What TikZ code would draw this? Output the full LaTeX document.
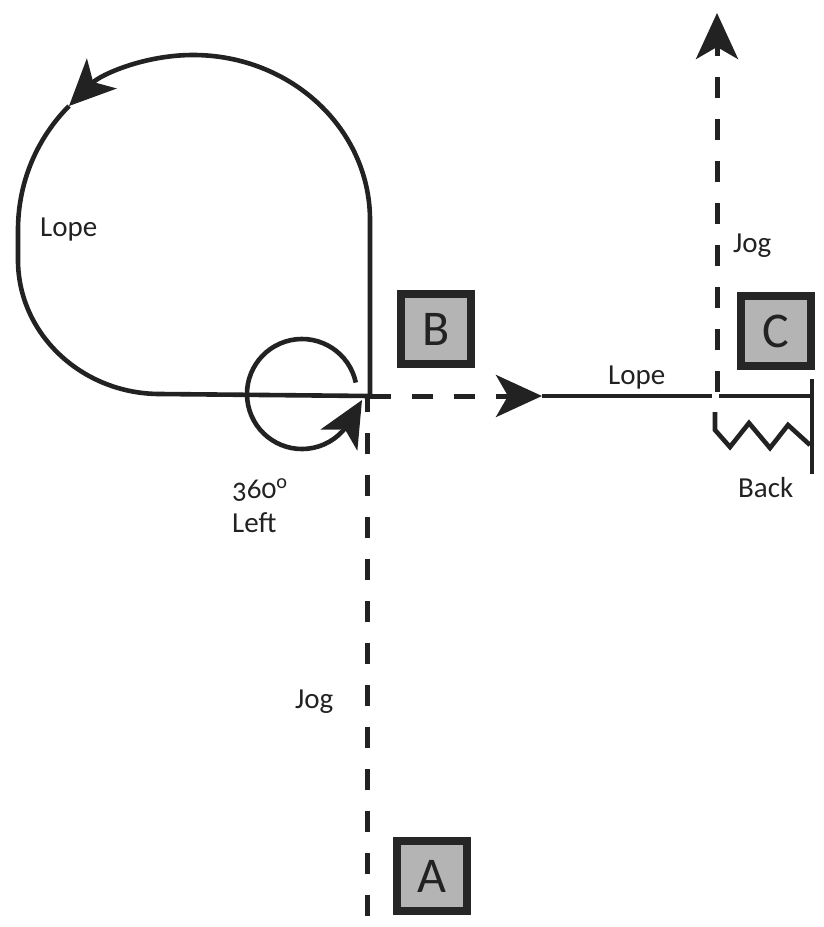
\documentclass[tikz,border=0pt]{standalone}
\usepackage{fontspec}
\setmainfont{Carlito}[Numbers=OldStyle]
\usetikzlibrary{arrows.meta}
\definecolor{ink}{HTML}{222222}
\definecolor{boxfill}{HTML}{B4B4B4}
\definecolor{boxedge}{HTML}{262626}
\tikzset{
  solidline/.style={draw=ink, line width=4.6pt},
  dashline/.style={draw=ink, line width=5pt, dash pattern=on 21pt off 21pt},
  tip/.style={-{Stealth[length=46pt,width=42pt,inset=12pt]}},
  marker/.style={draw=boxedge, fill=boxfill, line width=8pt, minimum size=70pt, inner sep=0pt,
    font=\fontsize{50}{50}\selectfont, text=ink},
  lbl/.style={font=\fontsize{29}{30}\selectfont, text=ink, inner sep=0pt, anchor=base west},
}
\begin{document}
\begin{tikzpicture}[x=1pt,y=-1pt]
\useasboundingbox (0,0) rectangle (824,927);
% markers
\node[marker] (B) at (436,329) {B};
\node[marker] (C) at (776,331) {C};
\node[marker] (A) at (432,876) {A};
% key points
\coordinate (J) at (370,396);
\coordinate (Astart) at (367,916);
\coordinate (Jv) at (367,398);
\coordinate (Mtip) at (542,396);
\coordinate (Cross1) at (712,396);
\coordinate (Cross2) at (719,396);
\coordinate (WallPt) at (812,396);
\coordinate (WallTop) at (812,379);
\coordinate (WallBot) at (812,474);
\coordinate (JogStart) at (717,392);
\coordinate (JogTip) at (717,13);
\coordinate (BigTip) at (69,106);
\coordinate (SmallTip) at (362,400);
% jog from A to B
\draw[dashline] (Astart) -- (Jv);
% big lope loop
\draw[solidline, tip] (J) -- (370,220) .. controls (370,129) and (291,55) .. (193,55)
   .. controls (144.5,55) and (100.75,74.5) .. (BigTip);
\draw[solidline] (BigTip) .. controls (37.5,137.75) and (18,181.5) .. (18,230)
   -- (18,260) .. controls (18,334) and (82,394) .. (160,394) -- (J);
% 360 left circle
\draw[solidline, tip] (302,394) ++(-12:55) arc[start angle=-12, end angle=-330, radius=55] -- (SmallTip);
% lope to C
\draw[dashline, tip] (J) -- (Mtip);
\draw[solidline] (Mtip) -- (Cross1);
\draw[solidline] (Cross2) -- (WallPt);
\draw[solidline, line cap=butt] (WallTop) -- (WallBot);
% back (zigzag)
\draw[solidline, line join=miter] (810,445) -- (788,425) -- (770,448) -- (749,423) -- (730,447) -- (715,430) -- (715,412);
% jog away
\draw[dashline, tip] (JogStart) -- (JogTip);
% labels
\node[lbl] (l1) at (40,236) {Lope};
\node[lbl] (l2) at (608,384) {Lope};
\node[lbl] (l3) at (733,252) {Jog};
\node[lbl] (l4) at (738,497) {Back};
\node[lbl] (l5) at (232,498) {360\textsuperscript{o}};
\node[lbl] (l6) at (232,532) {Left};
\node[lbl] (l7) at (295,708) {Jog};
\end{tikzpicture}
\end{document}
